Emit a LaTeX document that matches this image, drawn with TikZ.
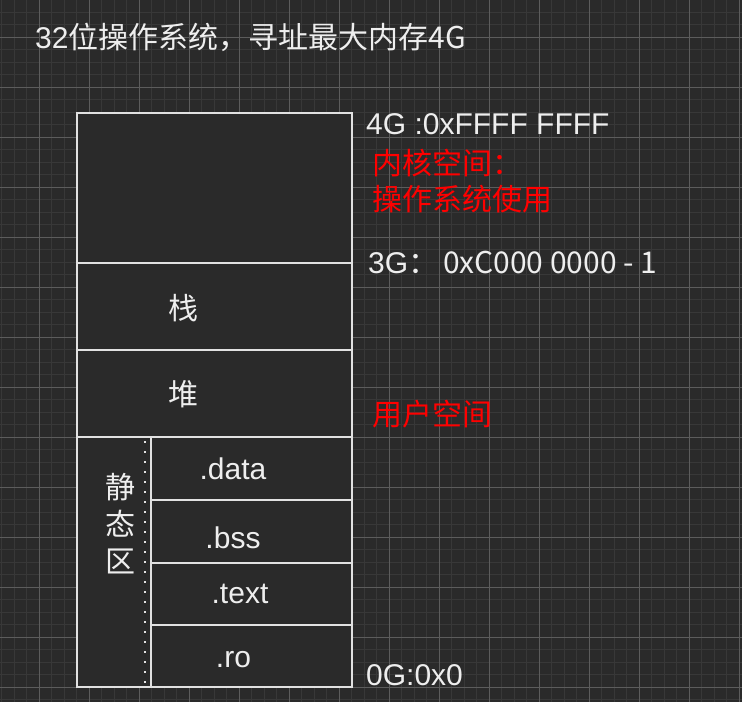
\documentclass[tikz,border=0pt]{standalone}
\usepackage{fontspec}
\setmainfont{Liberation Sans}
\newfontfamily\cjk{Noto Sans CJK SC}
\usetikzlibrary{positioning}
\definecolor{bgdark}{RGB}{42,42,42}
\definecolor{gridminor}{RGB}{56,56,56}
\definecolor{gridmajor}{RGB}{92,92,92}
\definecolor{segline}{RGB}{225,225,225}
\definecolor{labelwhite}{RGB}{238,238,238}
\definecolor{labelred}{RGB}{255,0,0}
\tikzset{seg/.style={draw=segline, fill=bgdark, line width=1.2pt, inner sep=0pt, outer sep=0pt, anchor=north west},
    lbl/.style={text=labelwhite, inner sep=0pt, font=\fontsize{30}{36}\selectfont},
    redlbl/.style={lbl, text=labelred}}

\begin{document}
\begin{tikzpicture}[x=1pt, y=-1pt]
        \useasboundingbox (0,0) rectangle (742,702);
        \fill[bgdark] (0,0) rectangle (742,702);
        % background grid
        \foreach \i in {0,...,59} {
            \draw[gridminor, line width=1pt] ({1.8+12.5*\i},0) -- ({1.8+12.5*\i},702);
        }
        \foreach \i in {0,...,56} {
            \draw[gridminor, line width=1pt] (0,{-0.2+12.5*\i}) -- (742,{-0.2+12.5*\i});
        }
        \foreach \i in {0,...,14} {
            \draw[gridmajor, line width=1pt] ({39.3+50*\i},0) -- ({39.3+50*\i},702);
        }
        \foreach \i in {0,...,13} {
            \draw[gridmajor, line width=1pt] (0,{37.3+50*\i}) -- (742,{37.3+50*\i});
        }
        \node[lbl, anchor=base west] (title) at (35,48) {32\cjk{位操作系统，寻址最大内存}4G};
        % memory segments
        \node[seg, minimum width=275pt, minimum height=150pt] (kernel) at (77,113) {};
        \node[seg, minimum width=275pt, minimum height=87pt] (stack) at (77,263) {};
        \node[seg, minimum width=275pt, minimum height=87pt] (heap) at (77,350) {};
        \node[seg, minimum width=275pt, minimum height=250pt] (static) at (77,437) {};
        \node[seg, minimum width=201pt, minimum height=63pt] (data) at (151,437) {};
        \node[seg, minimum width=201pt, minimum height=63pt] (bss) at (151,500) {};
        \node[seg, minimum width=201pt, minimum height=62pt] (text) at (151,563) {};
        \node[seg, minimum width=201pt, minimum height=62pt] (ro) at (151,625) {};
        \coordinate (dotA) at (145,441);
        \coordinate (dotB) at (145,687);
        \draw[segline, line width=2pt, dash pattern=on 2pt off 8pt] (dotA) -- (dotB);
        % segment names
        \node[lbl, anchor=base] (stackname) at (183,319) {\cjk{栈}};
        \node[lbl, anchor=base] (heapname) at (183,405) {\cjk{堆}};
        \node[lbl, align=center, font=\fontsize{30}{37}\selectfont] (staticname) at (120,524) {\cjk{静}\\\cjk{态}\\\cjk{区}};
        \node[lbl, anchor=base] (dataname) at (233,479) {.data};
        \node[lbl, anchor=base] (bssname) at (233,548) {.bss};
        \node[lbl, anchor=base] (textname) at (240,603) {.text};
        \node[lbl, anchor=base] (roname) at (233.5,667) {.ro};
        % addresses and spaces
        \node[lbl, anchor=base west] (top) at (366,134) {4G :0xFFFF FFFF};
        \node[redlbl, anchor=base west] (kernelA) at (372,174) {\cjk{内核空间：}};
        \node[redlbl, anchor=base west] (kernelB) at (372,210) {\cjk{操作系统使用}};
        \node[lbl, anchor=base west] (split) at (368,273) {3G\cjk{：}\,0xC000 0000 - 1};
        \node[redlbl, anchor=base west] (user) at (372,425) {\cjk{用户空间}};
        \node[lbl, anchor=base west] (bottom) at (366,685) {0G:0x0};
    \end{tikzpicture}
\end{document}
